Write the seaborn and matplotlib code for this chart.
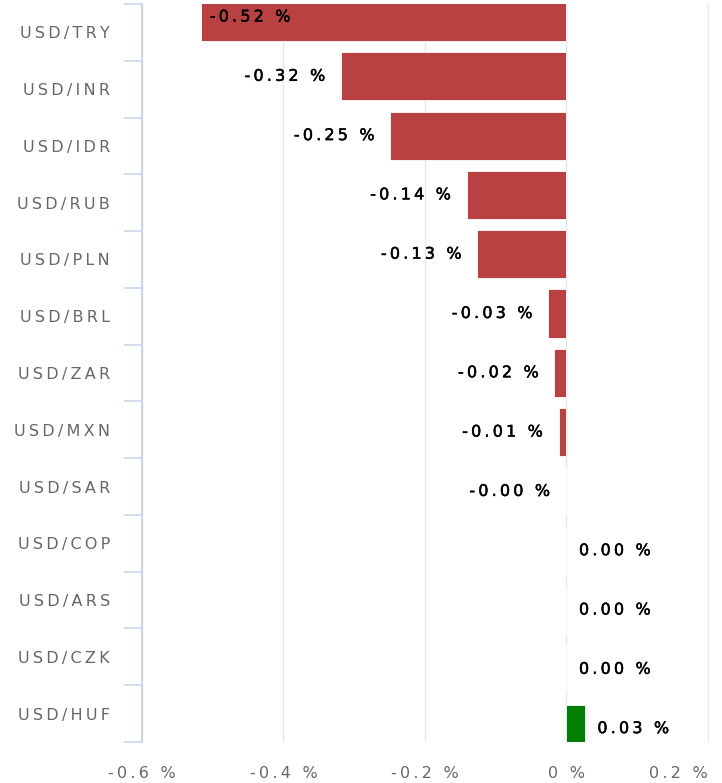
import matplotlib
matplotlib.use("Agg")
import matplotlib.pyplot as plt
import matplotlib.patheffects as pe
from matplotlib.ticker import FixedLocator, FixedFormatter, NullFormatter
import seaborn as sns
import pandas as pd
import numpy as np

# ---- data ----
pairs = ["USD/TRY", "USD/INR", "USD/IDR", "USD/RUB", "USD/PLN", "USD/BRL",
         "USD/ZAR", "USD/MXN", "USD/SAR", "USD/COP", "USD/ARS", "USD/CZK", "USD/HUF"]
changes = [-0.517, -0.319, -0.249, -0.141, -0.126, -0.026,
           -0.017, -0.011, -0.001, 0.0, 0.0, 0.0, 0.026]
xticks = [-0.6, -0.4, -0.2, 0.0, 0.2]
xtick_labels = ["-0.6 %", "-0.4 %", "-0.2 %", "0 %", "0.2 %"]

RED = "#b94142"
GREEN = "#008000"
GREY = "#666666"
AXIS_BLUE = "#ccd6eb"

def spaced(s):
    return "\u2009".join(s)

df = pd.DataFrame({"pair": pairs, "change": changes})
df["sign"] = np.where(df["change"] > 0, "pos", "neg")

sns.set_theme(style="white")
plt.rcParams["font.family"] = ["DejaVu Sans"]

fig = plt.figure(figsize=(7.22, 7.83), dpi=100)
ax = fig.add_axes([142 / 722, 1 - 742 / 783, (709 - 142) / 722, 738 / 783])

sns.barplot(data=df, x="change", y="pair", hue="sign", order=pairs,
            palette={"neg": RED, "pos": GREEN}, dodge=False, width=0.81,
            orient="h", legend=False, edgecolor="white", linewidth=0.6,
            saturation=1, ax=ax)

ax.set_xlim(-0.6, 0.2015)
ax.set_ylim(12.226, -0.219)
ax.set_xlabel("")
ax.set_ylabel("")
for s in ax.spines.values():
    s.set_visible(False)
ax.xaxis.set_major_locator(FixedLocator(xticks))
ax.xaxis.set_major_formatter(FixedFormatter([spaced(t) for t in xtick_labels]))
ax.tick_params(axis="x", length=0, pad=17, labelsize=11.5, labelcolor=GREY)
ax.get_xticklabels()[-1].set_horizontalalignment("right")
ax.set_yticks([])
ax.grid(axis="x", color="#e6e6e6", linewidth=1)
ax.grid(axis="y", visible=False)
ax.set_axisbelow(True)

# data labels
fs = 11.5
stroke = [pe.withStroke(linewidth=0.35, foreground="black")]
for i, v in enumerate(changes):
    txt = spaced(f"{v:.2f} %")
    if v >= 0:
        ax.annotate(txt, xy=(v, i), xytext=(9, 0), textcoords="offset points",
                    ha="left", va="center", fontsize=fs, color="black",
                    path_effects=stroke)
    elif v - 0.141 < -0.6:
        ax.annotate(txt, xy=(v, i), xytext=(6.5, 0), textcoords="offset points",
                    ha="left", va="center", fontsize=fs, color="black",
                    path_effects=stroke)
    else:
        ax.annotate(txt, xy=(v, i), xytext=(-11, 0), textcoords="offset points",
                    ha="right", va="center", fontsize=fs, color="black",
                    path_effects=stroke)

# category axis
ax2 = ax.twinx()
ax2.set_ylim(len(pairs) - 0.5, -0.5)
ax2.yaxis.tick_left()
ax2.yaxis.set_label_position("left")
ax2.yaxis.set_major_locator(FixedLocator(list(range(len(pairs)))))
ax2.yaxis.set_major_formatter(FixedFormatter([spaced(p) for p in pairs]))
ax2.yaxis.set_minor_locator(FixedLocator([k - 0.5 for k in range(len(pairs) + 1)]))
ax2.yaxis.set_minor_formatter(NullFormatter())
ax2.tick_params(axis="y", which="major", length=0, pad=23, labelsize=fs, labelcolor=GREY)
ax2.tick_params(axis="y", which="minor", length=13, width=1.2, color=AXIS_BLUE)
for name, s in ax2.spines.items():
    s.set_visible(name == "left")
ax2.spines["left"].set_color(AXIS_BLUE)
ax2.spines["left"].set_linewidth(1.5)
ax2.grid(False)

fig.savefig("out.png", dpi=100)
